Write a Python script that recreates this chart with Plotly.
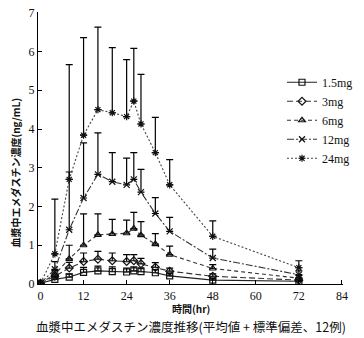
import plotly.graph_objects as go

hours = [0, 4, 8, 12, 16, 20, 24, 26, 28, 32, 36, 48, 72]
x_ticks = [0, 12, 24, 36, 48, 60, 72, 84]
y_ticks = [0, 1, 2, 3, 4, 5, 6, 7]

doses = ["1.5mg", "3mg", "6mg", "12mg", "24mg"]
mean_15 = [0.02, 0.12, 0.18, 0.30, 0.34, 0.32, 0.31, 0.34, 0.32, 0.29, 0.21, 0.10, 0.07]
sd_15 = [0.0, 0.05, 0.08, 0.13, 0.12, 0.12, 0.10, 0.10, 0.10, 0.08, 0.06, 0.04, 0.03]
mean_3 = [0.02, 0.20, 0.41, 0.58, 0.64, 0.60, 0.58, 0.60, 0.52, 0.43, 0.33, 0.20, 0.10]
sd_3 = [0.0, 0.08, 0.15, 0.22, 0.20, 0.20, 0.18, 0.16, 0.14, 0.12, 0.08, 0.06, 0.05]
mean_6 = [0.02, 0.25, 0.65, 1.00, 1.27, 1.29, 1.31, 1.43, 1.26, 1.03, 0.76, 0.40, 0.15]
sd_6 = [0.0, 0.10, 0.35, 0.81, 0.54, 0.38, 0.34, 0.42, 0.35, 0.27, 0.22, 0.10, 0.07]
mean_12 = [0.02, 0.38, 1.40, 2.22, 2.83, 2.64, 2.56, 2.70, 2.37, 1.82, 1.36, 0.67, 0.24]
sd_12 = [0.0, 0.20, 1.49, 1.42, 1.07, 0.75, 0.69, 0.69, 0.59, 0.41, 0.36, 0.23, 0.10]
mean_24 = [0.02, 0.78, 2.70, 3.84, 4.50, 4.42, 4.32, 4.72, 4.13, 3.39, 2.56, 1.23, 0.42]
sd_24 = [0.0, 1.41, 2.96, 2.52, 2.13, 1.68, 1.47, 1.36, 1.28, 0.91, 0.65, 0.40, 0.18]

means = [mean_15, mean_3, mean_6, mean_12, mean_24]
sds = [sd_15, sd_3, sd_6, sd_12, sd_24]
symbols = ["square-open", "diamond-open", "triangle-up-open", "x-thin-open", "asterisk-open"]
dashes = ["solid", "6px,3px", "4px,3px", "7px,2px,2px,2px", "2px,2px"]
line_colors = ["#222222", "#333333", "#333333", "#333333", "#444444"]

fig = go.Figure()
for name, m, s, sym, dsh, lc in zip(doses, means, sds, symbols, dashes, line_colors):
    fig.add_trace(go.Scatter(
        x=hours, y=m, name=name, mode="lines+markers",
        line=dict(color=lc, width=1.1, dash=dsh),
        marker=dict(symbol=sym, size=6, color="#111111",
                    line=dict(color="#111111", width=1.2)),
        error_y=dict(type="data", array=s, arrayminus=[0] * len(s), symmetric=False,
                     color="#000000", thickness=1.2, width=3.5),
    ))

serif = "Liberation Serif, Times New Roman, serif"
fig.update_layout(
    width=364, height=338,
    margin=dict(l=38, r=9, t=6, b=54),
    paper_bgcolor="white", plot_bgcolor="white",
    showlegend=True,
    legend=dict(x=0.80, y=0.795, xanchor="left", yanchor="top",
                font=dict(family=serif, size=12, color="#111111"),
                bgcolor="rgba(0,0,0,0)", itemwidth=30, tracegroupgap=0),
    xaxis=dict(range=[-0.7, 84.3], tickvals=x_ticks, ticktext=[str(v) for v in x_ticks],
               showgrid=False, zeroline=False, showline=True, linecolor="#000000",
               linewidth=1.3, ticks="inside", ticklen=4, tickcolor="#000000",
               tickfont=dict(family=serif, size=12, color="#111111")),
    yaxis=dict(range=[0, 7.02], tickvals=y_ticks, ticktext=[str(v) for v in y_ticks],
               showgrid=False, zeroline=False, showline=True, linecolor="#000000",
               linewidth=1.3, ticks="inside", ticklen=4, tickcolor="#000000",
               ticklabeloverflow="allow",
               tickfont=dict(family=serif, size=12, color="#111111")),
    annotations=[
        dict(text="<b>血漿中エメダスチン濃度(ng/mL)</b>", xref="paper", yref="paper",
             x=-0.075, y=0.41, xanchor="center", yanchor="middle", textangle=-90,
             showarrow=False, font=dict(family="Noto Sans CJK JP", size=10, color="#111111")),
        dict(text="<b>時間(hr)</b>", xref="paper", yref="paper",
             x=0.5, y=-0.09, xanchor="center", yanchor="middle",
             showarrow=False, font=dict(family="Noto Sans CJK JP", size=10, color="#111111")),
        dict(text="血漿中エメダスチン濃度推移(平均値 + 標準偏差、12例)", xref="paper", yref="paper",
             x=0.5, y=-0.155, xanchor="center", yanchor="middle",
             showarrow=False, font=dict(family="Noto Sans CJK JP", size=12.5, color="#111111")),
    ],
)

fig.write_html("out.html")
